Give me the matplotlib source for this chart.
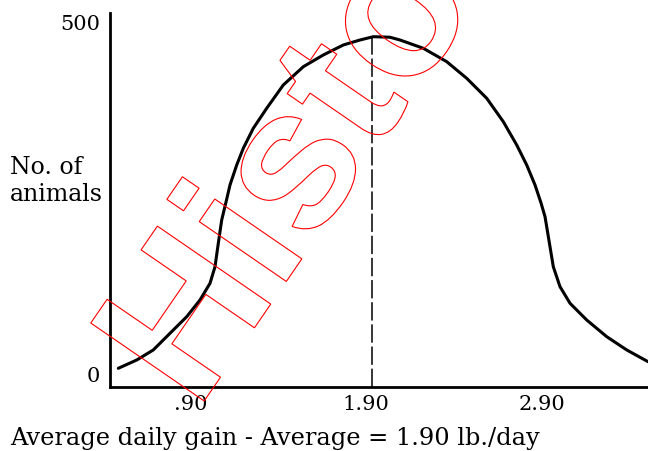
import matplotlib
matplotlib.use("Agg")
import matplotlib.pyplot as plt
from matplotlib.textpath import TextPath
from matplotlib.font_manager import FontProperties
from matplotlib.patches import PathPatch
from matplotlib.transforms import Affine2D, ScaledTranslation

# curve (average daily gain, number of animals)
gain = [0.4544, 0.5593, 0.6538, 0.7490, 0.8442, 0.9199, 0.9769, 1.0054, 1.0242,
        1.0436, 1.0709, 1.0909, 1.1291, 1.1667, 1.2236, 1.3000, 1.3946, 1.5085,
        1.6225, 1.7365, 1.8316, 1.9074, 2.0026, 2.0595, 2.1923, 2.3256, 2.4396,
        2.5536, 2.6481, 2.7245, 2.7815, 2.8288, 2.8630, 2.8858, 2.9142, 2.9330,
        2.9712, 3.0282, 3.1234, 3.2373, 3.3513, 3.4726]
animals = [8.8, 20.6, 34.9, 58.6, 82.2, 106.0, 129.7, 153.3, 186.6,
           219.8, 248.2, 269.6, 298.0, 321.8, 350.2, 378.7, 411.8, 437.8,
           454.5, 468.7, 475.8, 480.5, 479.7, 475.8, 464.0, 445.0, 421.3,
           392.9, 359.6, 326.5, 298.0, 269.6, 244.0, 224.5, 181.8, 153.3,
           124.9, 101.3, 77.5, 53.8, 34.9, 18.2]
mean_gain = 1.90

xticks = [0.90, 1.90, 2.90]
xtick_labels = [".90", "1.90", "2.90"]
yticks = [0, 500]
ytick_labels = ["0", "500"]

xlabel = "Average daily gain - Average = 1.90 lb./day"
ylabel = "No. of\nanimals"
watermark = "Histo"

serif = "DejaVu Serif"

fig = plt.figure(figsize=(6.48, 4.51), dpi=100)
ax = fig.add_axes([110 / 648, 64 / 451, 538 / 648, 374 / 451])

ax.plot(gain, animals, color="black", lw=2.2, solid_capstyle="round",
        solid_joinstyle="round", clip_on=False)
ax.plot([mean_gain, mean_gain], [-17.8, max(animals)], color="black", lw=1.1,
        linestyle=(0, (12, 2.5)))

ax.set_xlim(0.4071, 3.4726)
ax.set_ylim(-17.8, 514.2)

for s in ["top", "right"]:
    ax.spines[s].set_visible(False)
for s in ["left", "bottom"]:
    ax.spines[s].set_linewidth(2.0)

ax.set_xticks(xticks)
ax.set_xticklabels(xtick_labels, fontfamily=serif, fontsize=15)
ax.set_yticks(yticks)
ax.set_yticklabels(ytick_labels, fontfamily=serif, fontsize=15)
ax.tick_params(axis="both", length=0)
ax.tick_params(axis="x", pad=6)
ax.tick_params(axis="y", pad=7)

# hand-lettered labels sit a bit left of the tick marks
shift = ScaledTranslation(-6 / 100, 0, fig.dpi_scale_trans)
for lab in ax.get_xticklabels():
    lab.set_transform(lab.get_transform() + shift)

fig.text(10 / 648, 1 - 438 / 451, xlabel, fontfamily=serif, fontsize=17.4,
         ha="left", va="center")
fig.text(10 / 648, 1 - 181 / 451, ylabel, fontfamily=serif, fontsize=17,
         ha="left", va="center", linespacing=1.25)

# red outlined watermark across the plot
tp = TextPath((0, 0), watermark, size=200,
              prop=FontProperties(family="Liberation Sans", weight="bold"))
tr = Affine2D().rotate_deg(55.5).translate(196.6, 451 - 412)
fig.add_artist(PathPatch(tp, transform=tr, facecolor="none", edgecolor="red",
                         lw=0.8, zorder=10))

fig.savefig("out.png", dpi=100)
